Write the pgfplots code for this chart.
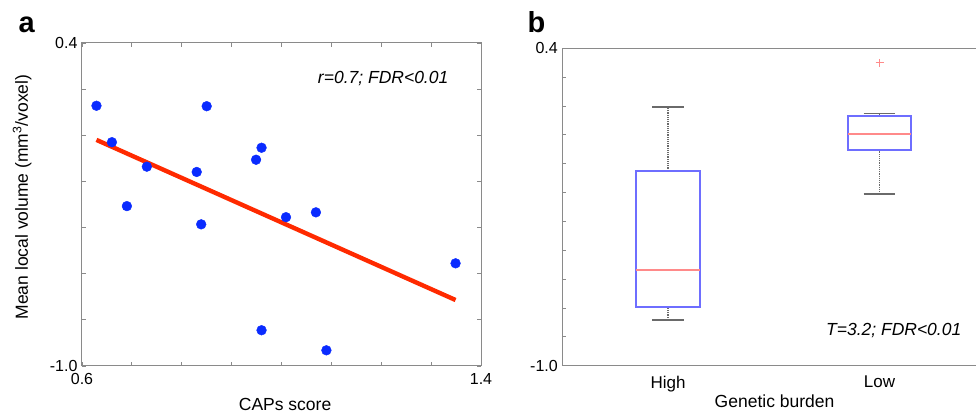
\documentclass[border=0pt]{standalone}
\usepackage{pgfplots}
\pgfplotsset{compat=1.18}
\usepackage{fontspec}
\setmainfont{Liberation Sans}
\definecolor{dotblue}{HTML}{0A2BFF}
\definecolor{fitred}{HTML}{FF2A00}
\definecolor{boxblue}{HTML}{6E6EFF}
\definecolor{medred}{HTML}{FF8A8A}
\definecolor{axgray}{HTML}{8A8A8A}
\definecolor{whgray}{HTML}{6A6A6A}
\begin{document}
\begin{tikzpicture}[x=1pt,y=1pt]
\useasboundingbox (0,0) rectangle (976,412);
% Panel a
\begin{axis}[
  at={(82pt,46pt)}, anchor=south west,
  scale only axis, width=399pt, height=323pt,
  xmin=0.6, xmax=1.4, ymin=-1.0, ymax=0.4,
  xtick={0.6,0.7,...,1.41}, xticklabels={0.6,,,,,,,,1.4},
  ytick={-1.0,-0.8,...,0.41}, yticklabels={-1.0,,,,,,,0.4},
  tick align=inside, major tick length=4pt,
  every tick/.style={axgray, line width=0.8pt},
  axis line style={axgray, line width=1pt},
  tick label style={font=\fontsize{16}{18}\selectfont},
  xticklabel style={yshift=-4pt},
  yticklabel style={xshift=-1pt},
  xlabel={CAPs score},
  ylabel={Mean local volume (mm\textsuperscript{3}/voxel)},
  every axis x label/.style={at={(axis description cs:0.509,-0.118)}, anchor=center, font=\fontsize{17.5}{20}\selectfont},
  every axis y label/.style={at={(axis description cs:-0.150,0.523)}, anchor=center, rotate=90, font=\fontsize{17.5}{20}\selectfont},
  clip=false,
]
\addplot[only marks, mark=*, mark size=4.9pt, dotblue, mark options={draw=dotblue, fill=dotblue}] coordinates {
  (0.629,0.128) (0.660,-0.030) (0.690,-0.307) (0.730,-0.136)
  (0.830,-0.159) (0.839,-0.386) (0.850,0.126) (0.949,-0.106)
  (0.960,-0.054) (0.960,-0.845) (1.009,-0.355) (1.069,-0.334)
  (1.090,-0.932) (1.349,-0.555)
};
\addplot[fitred, line width=4.4pt] coordinates {(0.629,-0.020) (1.349,-0.714)};
\node[anchor=east, font=\fontsize{17.5}{20}\selectfont\itshape] at (rel axis cs:0.927,0.889) {r=0.7; FDR<0.01};
\end{axis}
% Panel b
\begin{axis}[
  at={(562.3pt,46.3pt)}, anchor=south west,
  scale only axis, width=413.7pt, height=317.4pt,
  xmin=0.5, xmax=2.456, ymin=-1.0, ymax=0.4,
  separate axis lines,
  axis x line*=box, axis y line*=left,
  xtick={1,2}, xticklabels={High,Low},
  x tick style={draw=none},
  ytick={-1.0,-0.8727,-0.7455,-0.6182,-0.4909,-0.3636,-0.2364,-0.1091,0.0182,0.1455,0.2727,0.4},
  yticklabels={-1.0,,,,,,,,,,,0.4},
  tick align=inside, major tick length=4pt,
  y tick style={axgray, line width=0.8pt},
  axis line style={axgray, line width=1pt},
  yticklabel style={font=\fontsize{16}{18}\selectfont, xshift=-1pt},
  xticklabel style={font=\fontsize{17}{20}\selectfont, yshift=-7pt},
  xlabel={Genetic burden},
  every axis x label/.style={at={(axis description cs:0.513,-0.113)}, anchor=center, font=\fontsize{17.5}{20}\selectfont},
  clip=false,
]
% High group: whiskers (dotted), caps, box, median
\addplot[whgray, line width=1.2pt, densely dotted] coordinates {(1,-0.140) (1,0.140)};
\addplot[whgray, line width=1.2pt, densely dotted] coordinates {(1,-0.798) (1,-0.742)};
\addplot[whgray, line width=1.8pt] coordinates {(0.925,0.140) (1.075,0.140)};
\addplot[whgray, line width=1.8pt] coordinates {(0.925,-0.798) (1.075,-0.798)};
\addplot[boxblue, line width=2pt] coordinates {(0.85,-0.742) (1.15,-0.742) (1.15,-0.140) (0.85,-0.140) (0.85,-0.742)} -- cycle;
\addplot[medred, line width=2pt] coordinates {(0.85,-0.579) (1.15,-0.579)};
% Low group
\addplot[whgray, line width=1.2pt, densely dotted] coordinates {(2,0.100) (2,0.112)};
\addplot[whgray, line width=1.2pt, densely dotted] coordinates {(2,-0.244) (2,-0.047)};
\addplot[whgray, line width=1.8pt] coordinates {(1.925,0.112) (2.075,0.112)};
\addplot[whgray, line width=1.8pt] coordinates {(1.925,-0.244) (2.075,-0.244)};
\addplot[boxblue, line width=2pt] coordinates {(1.85,-0.047) (2.15,-0.047) (2.15,0.100) (1.85,0.100) (1.85,-0.047)} -- cycle;
\addplot[medred, line width=2pt] coordinates {(1.85,0.023) (2.15,0.023)};
% outlier
\addplot[only marks, mark=+, mark size=4pt, draw=medred, mark options={draw=medred, line width=1.3pt, solid}] coordinates {(2,0.336)};
\node[anchor=east, font=\fontsize{17.5}{20}\selectfont\itshape] at (rel axis cs:0.973,0.112) {T=3.2; FDR<0.01};
\end{axis}
\node[anchor=base west, font=\fontsize{29}{32}\selectfont\bfseries] at (15,379) {a};
\node[anchor=base west, font=\fontsize{29}{32}\selectfont\bfseries] at (524,379) {b};
\end{tikzpicture}
\end{document}
